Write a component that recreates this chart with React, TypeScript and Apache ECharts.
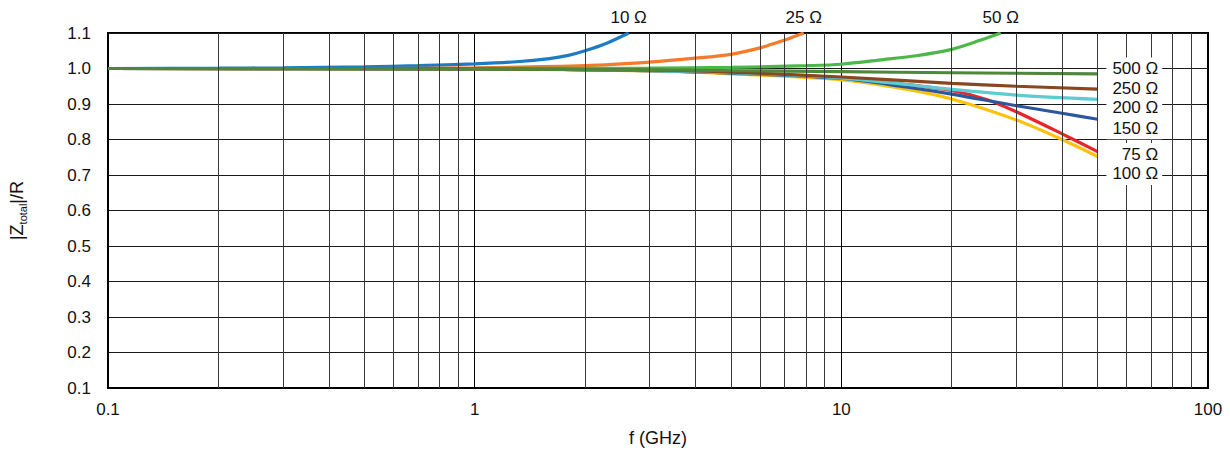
import React, { useEffect, useRef } from 'react';
import * as echarts from 'echarts';

// ---- data ----
const f10 = [0.1, 0.2, 0.3, 0.5, 0.7, 1, 1.3, 1.6, 1.8, 2.0, 2.3, 2.63];
const z10 = [1.0, 1.001, 1.002, 1.005, 1.008, 1.013, 1.019, 1.028, 1.037, 1.05, 1.072, 1.1];

const f25 = [0.1, 0.5, 1, 2, 3, 4, 5, 6, 7, 7.9];
const z25 = [1.0, 1.0, 1.002, 1.008, 1.018, 1.029, 1.04, 1.058, 1.08, 1.1];

const f50 = [0.1, 1, 3, 5, 8, 10, 13, 16, 20, 24, 27.2];
const z50 = [1.0, 1.0, 1.001, 1.003, 1.008, 1.012, 1.025, 1.036, 1.054, 1.08, 1.1];

const f75 = [0.1, 1, 3, 5, 10, 15, 20, 25, 30, 40, 50];
const z75 = [1.0, 0.999, 0.994, 0.987, 0.972, 0.955, 0.938, 0.912, 0.878, 0.816, 0.766];

const f100 = [0.1, 1, 3, 5, 10, 15, 20, 30, 40, 50];
const z100 = [1.0, 0.999, 0.993, 0.985, 0.968, 0.942, 0.914, 0.855, 0.8, 0.752];

const f150 = [0.1, 1, 3, 5, 10, 15, 20, 30, 40, 50];
const z150 = [1.0, 0.999, 0.994, 0.987, 0.972, 0.948, 0.928, 0.895, 0.874, 0.857];

const f200 = [0.1, 1, 3, 5, 10, 15, 20, 30, 50];
const z200 = [1.0, 0.999, 0.994, 0.988, 0.973, 0.955, 0.941, 0.925, 0.913];

const f250 = [0.1, 1, 3, 5, 10, 20, 30, 50];
const z250 = [1.0, 0.999, 0.995, 0.99, 0.976, 0.958, 0.95, 0.942];

const f500 = [0.1, 1, 3, 10, 20, 50];
const z500 = [1.0, 0.999, 0.996, 0.991, 0.988, 0.985];

const seriesNames = ['10 Ω', '25 Ω', '50 Ω', '75 Ω', '100 Ω', '150 Ω', '200 Ω', '250 Ω', '500 Ω'];
const seriesFreqs = [f10, f25, f50, f75, f100, f150, f200, f250, f500];
const seriesVals = [z10, z25, z50, z75, z100, z150, z200, z250, z500];
const seriesColors = ['#1b7cc4', '#f47a2c', '#4db84a', '#e8252b', '#fdc20c', '#2b579f', '#5ecad2', '#8a461e', '#4f883a'];

const topLabels = ['10 Ω', '25 Ω', '50 Ω'];
const topLabelFreqs = [2.63, 7.9, 27.2];
const topLabelY = 1.1;

const rightLabels = ['500 Ω', '250 Ω', '200 Ω', '150 Ω', '75 Ω', '100 Ω'];
const rightLabelYs = [1.0, 0.945, 0.889, 0.832, 0.759, 0.703];
const rightLabelFreq = 75;

const minorGridFreqs = [
  0.2, 0.3, 0.4, 0.5, 0.6, 0.7, 0.8, 0.9,
  2, 3, 4, 5, 6, 7, 8, 9,
  20, 30, 40, 50, 60, 70, 80, 90,
];

const FONT = '"Liberation Sans", Arial, sans-serif';

export default function App() {
  const ref = useRef<HTMLDivElement>(null);

  useEffect(() => {
    if (!ref.current) return;
    const chart = echarts.init(ref.current, undefined, { renderer: 'svg' });

    const curveSeries = seriesNames.map((name, i) => ({
      name,
      type: 'line',
      data: seriesFreqs[i].map((f, j) => [f, seriesVals[i][j]]),
      smooth: 0.3,
      showSymbol: false,
      symbol: 'none',
      lineStyle: { color: seriesColors[i], width: 3.2 },
      itemStyle: { color: seriesColors[i] },
      z: 3,
    }));

    const gridSeries = {
      name: 'minor-grid',
      type: 'line',
      data: [],
      showSymbol: false,
      z: 1,
      silent: true,
      markLine: {
        silent: true,
        symbol: ['none', 'none'],
        label: { show: false },
        animation: false,
        lineStyle: { color: '#3a3a3a', width: 1, type: 'solid' },
        data: minorGridFreqs.map((f) => ({ xAxis: f })),
      },
    };

    const labelSeries = {
      name: 'labels',
      type: 'line',
      data: [],
      showSymbol: false,
      z: 10,
      silent: true,
      markPoint: {
        silent: true,
        symbol: 'rect',
        symbolSize: 0,
        animation: false,
        label: {
          show: true,
          color: '#111',
          fontFamily: FONT,
          fontSize: 17,
          formatter: (p: any) => p.name,
        },
        data: [
          ...topLabels.map((t, i) => ({
            name: t,
            coord: [topLabelFreqs[i], topLabelY],
            label: { position: 'inside', offset: [0, -16] },
          })),
          ...rightLabels.map((t, i) => ({
            name: t,
            coord: [rightLabelFreq, rightLabelYs[i]],
            label: {
              position: 'left',
              distance: 0,
              backgroundColor: '#fff',
              padding: [2, 4, 2, 6],
              lineHeight: 18,
            },
          })),
        ],
      },
    };

    chart.setOption({
      animation: false,
      grid: {
        left: 105,
        right: 22,
        top: 33,
        bottom: 67,
        show: true,
        borderColor: '#000',
        borderWidth: 2,
        backgroundColor: 'transparent',
      },
      xAxis: {
        type: 'log',
        logBase: 10,
        min: 0.1,
        max: 100,
        name: 'f (GHz)',
        nameLocation: 'middle',
        nameGap: 41,
        nameTextStyle: { fontFamily: FONT, fontSize: 18, color: '#111' },
        axisLine: { show: true, lineStyle: { color: '#000', width: 2 } },
        axisTick: { show: false },
        axisLabel: {
          margin: 13,
          fontFamily: FONT,
          fontSize: 17,
          color: '#111',
          formatter: (v: number) => (v < 1 ? v.toFixed(1) : String(Math.round(v))),
        },
        splitLine: { show: true, lineStyle: { color: '#000', width: 1 } },
      },
      yAxis: {
        type: 'value',
        min: 0.1,
        max: 1.1,
        interval: 0.1,
        name: '{a||Z}{s|total}{a||/R}',
        nameLocation: 'middle',
        nameGap: 80,
        nameRotate: 90,
        nameTextStyle: {
          fontFamily: FONT,
          fontSize: 18,
          color: '#111',
          rich: {
            a: { fontFamily: FONT, fontSize: 18, color: '#111', lineHeight: 22, verticalAlign: 'middle' },
            s: { fontFamily: FONT, fontSize: 11, color: '#111', lineHeight: 22, verticalAlign: 'bottom', padding: [7, 0, 0, 0] },
          },
        },
        axisLine: { show: true, lineStyle: { color: '#000', width: 2 } },
        axisTick: { show: false },
        axisLabel: {
          margin: 17,
          fontFamily: FONT,
          fontSize: 17,
          color: '#111',
          formatter: (v: number) => v.toFixed(1),
        },
        splitLine: { show: true, lineStyle: { color: '#1a1a1a', width: 1 } },
      },
      series: [gridSeries, ...curveSeries, labelSeries],
    });

    return () => chart.dispose();
  }, []);

  return (
    <div
      ref={ref}
      style={{ position: 'absolute', left: 0, top: 0, width: 1230, height: 455, background: '#fff' }}
    />
  );
}
